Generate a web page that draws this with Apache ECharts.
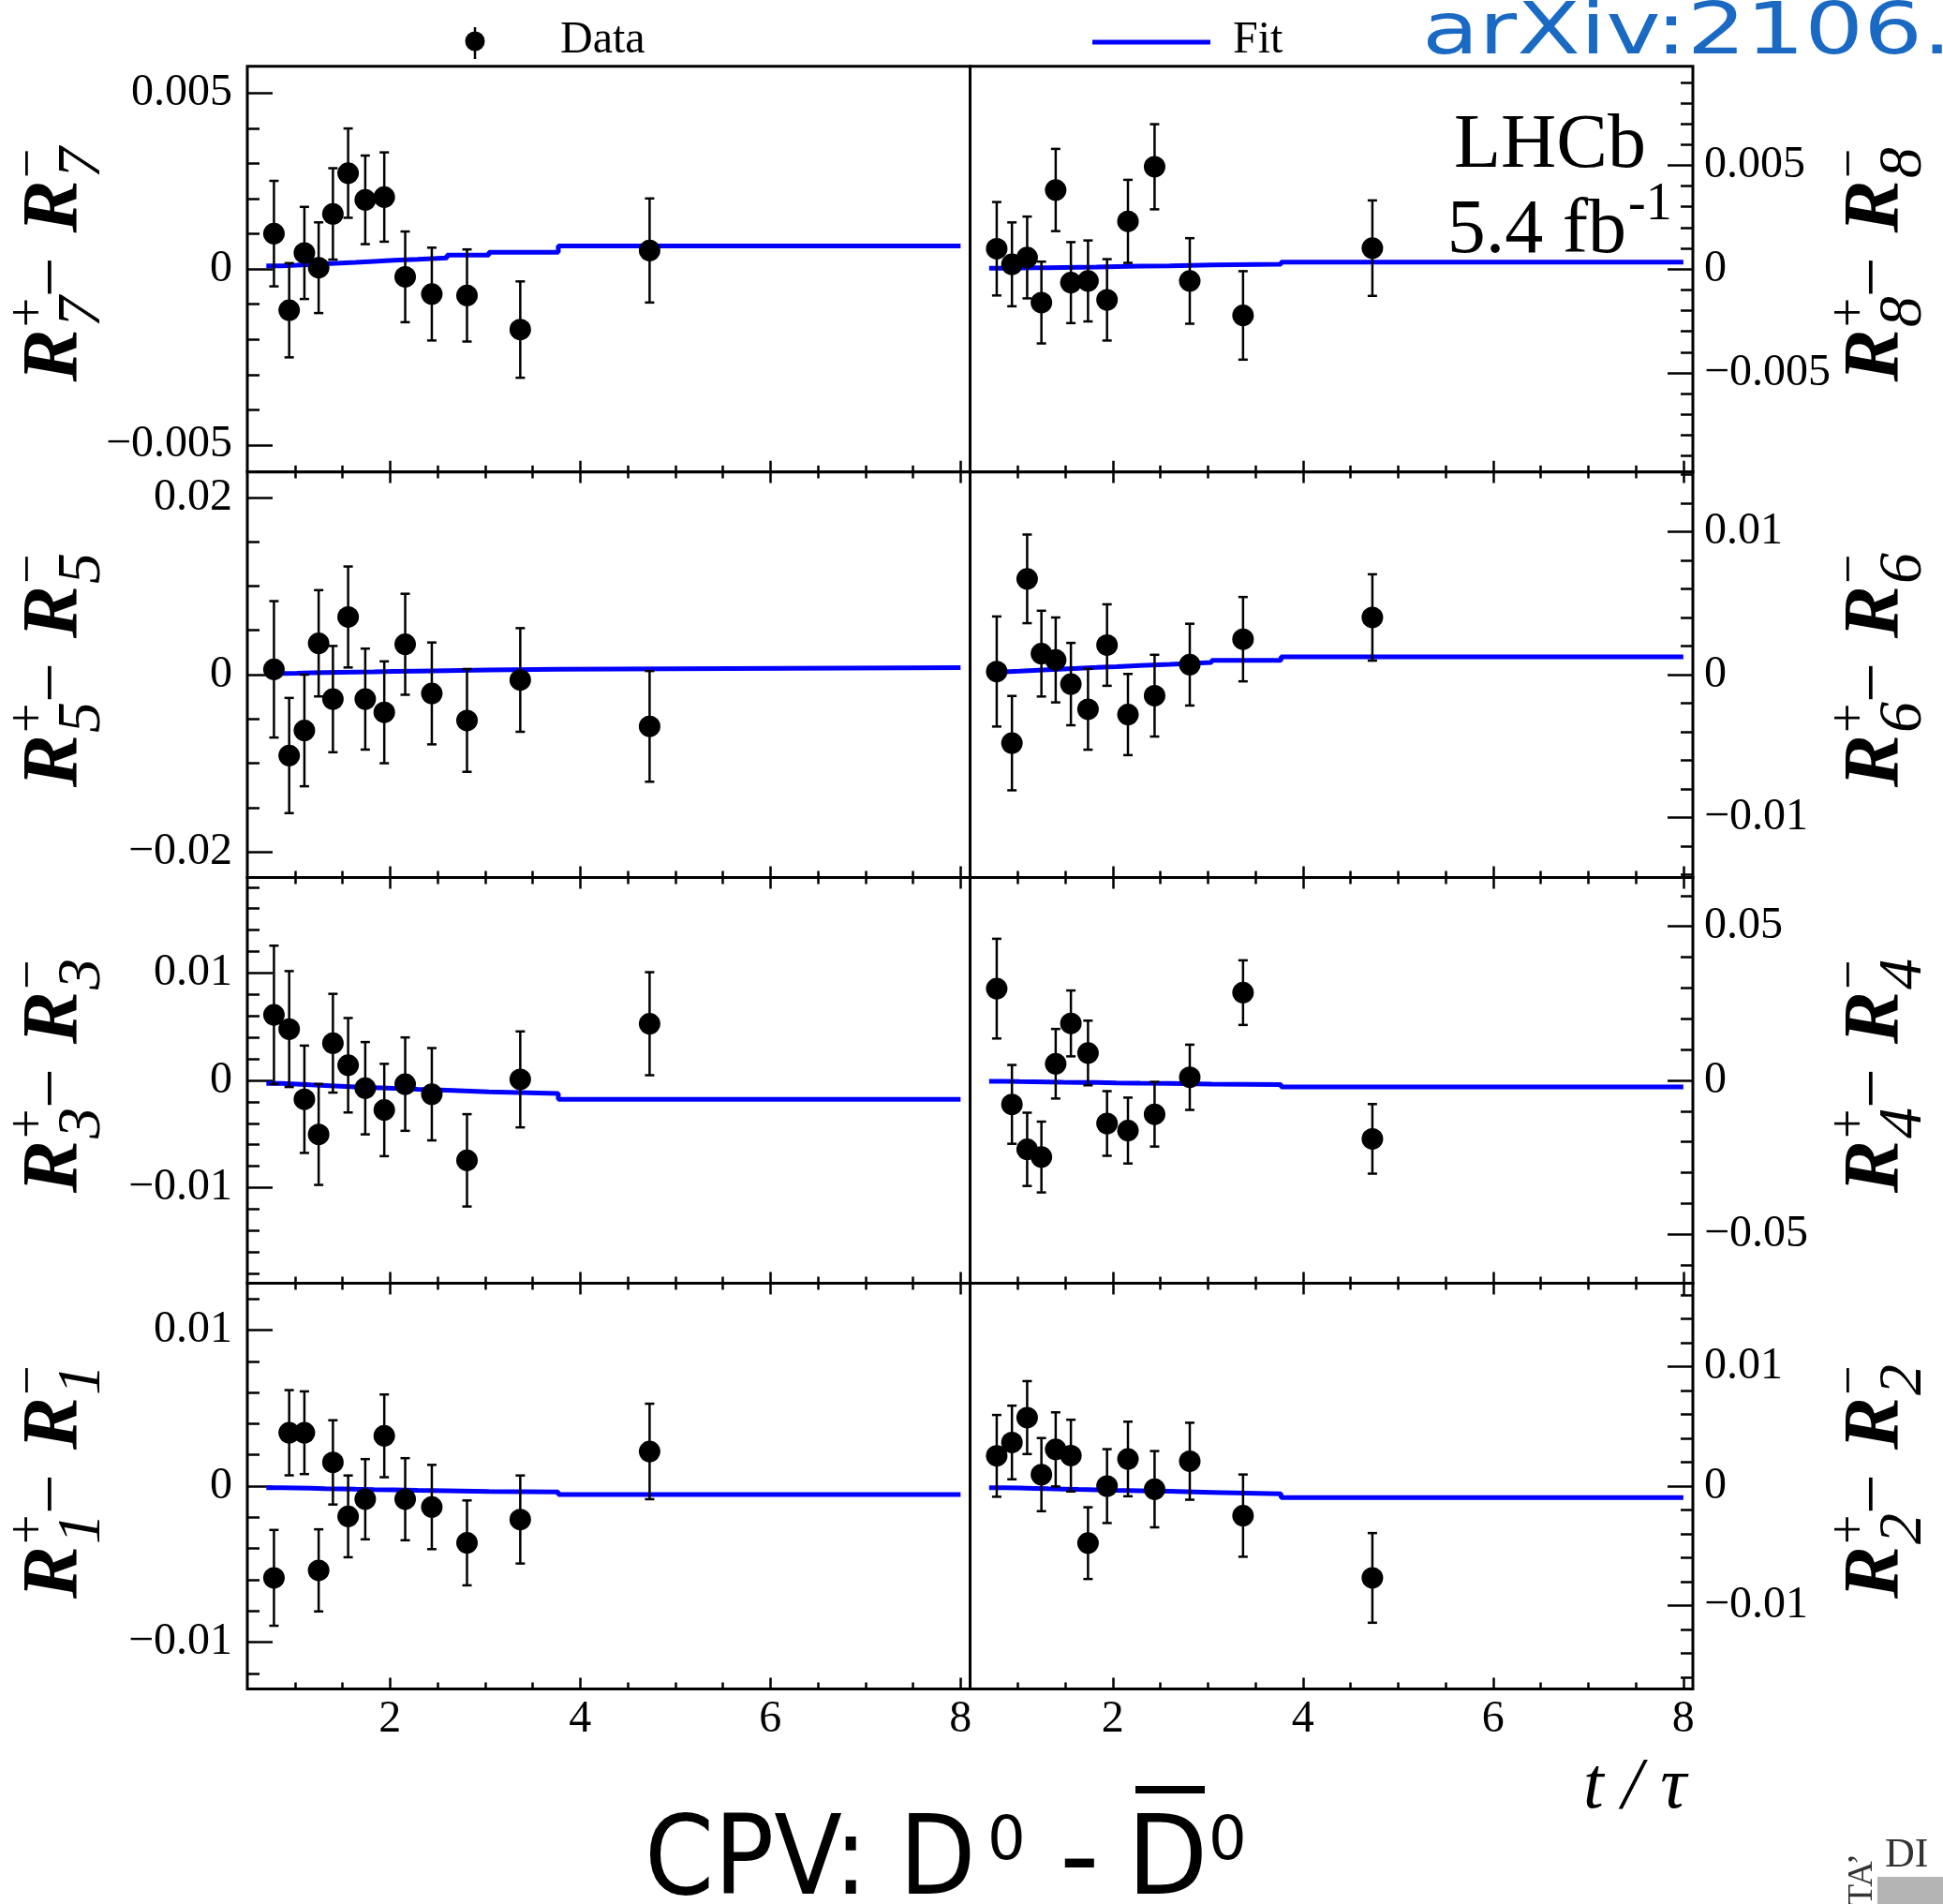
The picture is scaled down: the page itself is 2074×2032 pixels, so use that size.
<!DOCTYPE html>
<html>
<head>
<meta charset="utf-8">
<title>CPV: D0 - D0bar</title>
<script src="https://cdn.jsdelivr.net/npm/echarts@6/dist/echarts.min.js"></script>
<style>
html, body { margin: 0; padding: 0; background: #fff; }
#chart { width: 2074px; height: 2032px; }
</style>
</head>
<body>
<div id="chart"></div>
<script>
// decay-time bin centres (t / tau)
const tCentres = [0.78, 0.94, 1.10, 1.25, 1.40, 1.56, 1.74, 1.94, 2.16, 2.44, 2.81, 3.37, 4.73];
// bin edges used by the fitted step function
const fitEdges = [0.70, 0.86, 1.02, 1.17, 1.32, 1.48, 1.64, 1.83, 2.04, 2.29, 2.60, 3.04, 3.77, 8.00];

// R_i^+ - R_i^- per bin, uncertainties and fit per bin
const r7Val = [0.00101, -0.00117, 0.00046, 0.00004, 0.00157, 0.00273, 0.00197, 0.00205, -0.00022, -0.00071, -0.00075, -0.00172, 0.00053];
const r7Err = [0.00150, 0.00134, 0.00131, 0.00129, 0.00130, 0.00127, 0.00126, 0.00127, 0.00129, 0.00132, 0.00131, 0.00137, 0.00148];
const r7Fit = [0.00009, 0.00011, 0.00013, 0.00015, 0.00017, 0.00019, 0.00022, 0.00025, 0.00028, 0.00032, 0.00040, 0.00048, 0.00066];

const r8Val = [0.00098, 0.00023, 0.00056, -0.00161, 0.00381, -0.00065, -0.00057, -0.00148, 0.00230, 0.00493, -0.00057, -0.00223, 0.00101];
const r8Err = [0.00225, 0.00202, 0.00197, 0.00197, 0.00198, 0.00195, 0.00195, 0.00196, 0.00200, 0.00205, 0.00206, 0.00213, 0.00230];
const r8Fit = [0.00004, 0.00005, 0.00006, 0.00007, 0.00008, 0.00009, 0.00010, 0.00012, 0.00014, 0.00016, 0.00020, 0.00024, 0.00034];

const r5Val = [0.00060, -0.00913, -0.00630, 0.00354, -0.00276, 0.00651, -0.00276, -0.00425, 0.00343, -0.00212, -0.00517, -0.00060, -0.00584];
const r5Err = [0.00770, 0.00650, 0.00630, 0.00600, 0.00600, 0.00570, 0.00570, 0.00575, 0.00570, 0.00575, 0.00580, 0.00585, 0.00625];
const r5Fit = [0.00014, 0.00017, 0.00020, 0.00023, 0.00026, 0.00029, 0.00032, 0.00036, 0.00040, 0.00045, 0.00052, 0.00060, 0.00080];

const r6Val = [0.00022, -0.00479, 0.00670, 0.00147, 0.00103, -0.00066, -0.00242, 0.00207, -0.00279, -0.00147, 0.00070, 0.00248, 0.00400];
const r6Err = [0.00385, 0.00330, 0.00310, 0.00300, 0.00297, 0.00288, 0.00283, 0.00285, 0.00284, 0.00286, 0.00286, 0.00295, 0.00302];
const r6Fit = [0.00020, 0.00025, 0.00030, 0.00035, 0.00040, 0.00045, 0.00050, 0.00056, 0.00064, 0.00072, 0.00085, 0.00100, 0.00125];

const r3Val = [0.00610, 0.00478, -0.00176, -0.00504, 0.00346, 0.00141, -0.00073, -0.00276, -0.00035, -0.00129, -0.00745, 0.00009, 0.00528];
const r3Err = [0.00645, 0.00540, 0.00500, 0.00470, 0.00460, 0.00440, 0.00430, 0.00430, 0.00435, 0.00430, 0.00430, 0.00447, 0.00480];
const r3Fit = [-0.00029, -0.00035, -0.00042, -0.00048, -0.00055, -0.00062, -0.00068, -0.00075, -0.00083, -0.00092, -0.00108, -0.00123, -0.00176];

const r4Val = [0.0298, -0.0078, -0.0224, -0.0249, 0.0054, 0.0185, 0.0089, -0.0140, -0.0163, -0.0110, 0.0010, 0.0285, -0.0190];
const r4Err = [0.0162, 0.0128, 0.0119, 0.0115, 0.0113, 0.0107, 0.0105, 0.0105, 0.0107, 0.0105, 0.0106, 0.0105, 0.0113];
const r4Fit = [-0.0003, -0.0004, -0.00045, -0.0005, -0.0006, -0.00065, -0.0007, -0.0008, -0.0009, -0.0010, -0.0012, -0.0014, -0.0021];

const r1Val = [-0.00588, 0.00342, 0.00342, -0.00540, 0.00152, -0.00194, -0.00084, 0.00322, -0.00084, -0.00134, -0.00364, -0.00214, 0.00222];
const r1Err = [0.00307, 0.00273, 0.00265, 0.00263, 0.00270, 0.00262, 0.00257, 0.00265, 0.00263, 0.00270, 0.00272, 0.00282, 0.00306];
const r1Fit = [-0.00010, -0.00012, -0.00014, -0.00016, -0.00018, -0.00020, -0.00022, -0.00024, -0.00027, -0.00030, -0.00034, -0.00038, -0.00054];

const r2Val = [0.00253, 0.00365, 0.00573, 0.00096, 0.00307, 0.00255, -0.00477, 0.00000, 0.00227, -0.00026, 0.00208, -0.00247, -0.00768];
const r2Err = [0.00342, 0.00308, 0.00305, 0.00306, 0.00310, 0.00300, 0.00300, 0.00309, 0.00312, 0.00319, 0.00322, 0.00344, 0.00375];
const r2Fit = [-0.00013, -0.00016, -0.00019, -0.00022, -0.00025, -0.00028, -0.00031, -0.00035, -0.00039, -0.00044, -0.00052, -0.00065, -0.00096];

// axis ticks and labels
const xMajorTicks = [2, 4, 6, 8];
const xMajorText = ['2', '4', '6', '8'];
const xMinorTicks = [1, 1.5, 2.5, 3, 3.5, 4.5, 5, 5.5, 6.5, 7, 7.5];

const r7Ticks = [-0.005, 0, 0.005], r7TickText = ['\u22120.005', '0', '0.005'];
const r8Ticks = [-0.005, 0, 0.005], r8TickText = ['\u22120.005', '0', '0.005'];
const r5Ticks = [-0.02, 0, 0.02],   r5TickText = ['\u22120.02', '0', '0.02'];
const r6Ticks = [-0.01, 0, 0.01],   r6TickText = ['\u22120.01', '0', '0.01'];
const r3Ticks = [-0.01, 0, 0.01],   r3TickText = ['\u22120.01', '0', '0.01'];
const r4Ticks = [-0.05, 0, 0.05],   r4TickText = ['\u22120.05', '0', '0.05'];
const r1Ticks = [-0.01, 0, 0.01],   r1TickText = ['\u22120.01', '0', '0.01'];
const r2Ticks = [-0.01, 0, 0.01],   r2TickText = ['\u22120.01', '0', '0.01'];

// panel order: rows top to bottom, left column then right column
const panels = [
  { idx: '7', val: r7Val, err: r7Err, fit: r7Fit, lim: 0.00577, ticks: r7Ticks, text: r7TickText, minorStep: 0.001 },
  { idx: '8', val: r8Val, err: r8Err, fit: r8Fit, lim: 0.00977, ticks: r8Ticks, text: r8TickText, minorStep: 0.001 },
  { idx: '5', val: r5Val, err: r5Err, fit: r5Fit, lim: 0.0229,  ticks: r5Ticks, text: r5TickText, minorStep: 0.005 },
  { idx: '6', val: r6Val, err: r6Err, fit: r6Fit, lim: 0.01419, ticks: r6Ticks, text: r6TickText, minorStep: 0.002 },
  { idx: '3', val: r3Val, err: r3Err, fit: r3Fit, lim: 0.0189,  ticks: r3Ticks, text: r3TickText, minorStep: 0.002 },
  { idx: '4', val: r4Val, err: r4Err, fit: r4Fit, lim: 0.0659,  ticks: r4Ticks, text: r4TickText, minorStep: 0.01 },
  { idx: '1', val: r1Val, err: r1Err, fit: r1Fit, lim: 0.0130,  ticks: r1Ticks, text: r1TickText, minorStep: 0.002 },
  { idx: '2', val: r2Val, err: r2Err, fit: r2Fit, lim: 0.01697, ticks: r2Ticks, text: r2TickText, minorStep: 0.002 }
];

const SERIF = 'Liberation Serif';
const SANS = 'DejaVu Sans';
const rowTops = [70.7, 503.5, 936.5, 1369.5];
const rowHeight = 433;
const colLefts = [264, 1035.5];
const colWidth = 771.5;

function minorTicks(step, lim, majors) {
  const out = [];
  const n = Math.floor(lim / step + 1e-9);
  for (let k = -n; k <= n; k++) {
    const v = +(k * step).toFixed(6);
    if (!majors.some(m => Math.abs(m - v) < 1e-9)) out.push(v);
  }
  return out;
}

const grids = [], xAxes = [], yAxes = [], series = [];
const tickLine = { color: '#000', width: 2.5 };

panels.forEach((p, i) => {
  const row = Math.floor(i / 2), col = i % 2;
  grids.push({
    left: colLefts[col], top: rowTops[row], width: colWidth, height: rowHeight,
    show: true, borderColor: '#000', borderWidth: 3, backgroundColor: 'transparent'
  });

  const xi = xAxes.length;
  const xBase = {
    type: 'value', gridIndex: i, min: 0.5, max: 8.1,
    splitLine: { show: false }, axisLine: { show: false, onZero: false }
  };
  xAxes.push(Object.assign({}, xBase, {
    position: 'bottom',
    axisTick: { show: true, inside: true, length: 12, customValues: xMajorTicks, lineStyle: tickLine },
    axisLabel: {
      show: row === 3, customValues: xMajorTicks, margin: 9,
      fontFamily: SERIF, fontSize: 48, color: '#000',
      formatter: v => xMajorText[xMajorTicks.indexOf(v)]
    }
  }));
  xAxes.push(Object.assign({}, xBase, {
    position: 'bottom',
    axisTick: { show: true, inside: true, length: 7, customValues: xMinorTicks, lineStyle: tickLine },
    axisLabel: { show: false }
  }));
  xAxes.push(Object.assign({}, xBase, {
    position: 'top',
    axisTick: { show: row > 0, inside: true, length: 12, customValues: xMajorTicks, lineStyle: tickLine },
    axisLabel: { show: false }
  }));
  xAxes.push(Object.assign({}, xBase, {
    position: 'top',
    axisTick: { show: row > 0, inside: true, length: 7, customValues: xMinorTicks, lineStyle: tickLine },
    axisLabel: { show: false }
  }));

  const yi = yAxes.length;
  const yBase = {
    type: 'value', gridIndex: i, min: -p.lim, max: p.lim,
    position: col ? 'right' : 'left',
    splitLine: { show: false }, axisLine: { show: false, onZero: false }
  };
  yAxes.push(Object.assign({}, yBase, {
    axisTick: { show: true, inside: true, length: 27, customValues: p.ticks, lineStyle: tickLine },
    axisLabel: {
      show: true, customValues: p.ticks, margin: col ? 12 : 16,
      fontFamily: SERIF, fontSize: 48, color: '#000',
      formatter: v => {
        const k = p.ticks.findIndex(m => Math.abs(m - v) < 1e-9);
        return k >= 0 ? p.text[k] : '';
      }
    }
  }));
  yAxes.push(Object.assign({}, yBase, {
    axisTick: { show: true, inside: true, length: 13, customValues: minorTicks(p.minorStep, p.lim, p.ticks), lineStyle: tickLine },
    axisLabel: { show: false }
  }));

  // fitted step function
  const fitData = fitEdges.map((e, k) => [e, p.fit[Math.min(k, p.fit.length - 1)]]);
  series.push({
    type: 'line', xAxisIndex: xi, yAxisIndex: yi, step: 'end',
    data: fitData, showSymbol: false, symbol: 'none', z: 2,
    lineStyle: { color: '#0000ff', width: 5 }, silent: true
  });

  // error bars
  series.push({
    type: 'custom', xAxisIndex: xi, yAxisIndex: yi, z: 3,
    data: tCentres.map((t, k) => [t, p.val[k], p.err[k]]),
    encode: { x: 0, y: 1 },
    renderItem: (params, api) => {
      const x = api.value(0), y = api.value(1), e = api.value(2);
      const hi = api.coord([x, y + e]);
      const lo = api.coord([x, y - e]);
      const cap = 5;
      const st = { stroke: '#000', lineWidth: 2.5 };
      return {
        type: 'group', children: [
          { type: 'line', shape: { x1: hi[0], y1: hi[1], x2: lo[0], y2: lo[1] }, style: st },
          { type: 'line', shape: { x1: hi[0] - cap, y1: hi[1], x2: hi[0] + cap, y2: hi[1] }, style: st },
          { type: 'line', shape: { x1: lo[0] - cap, y1: lo[1], x2: lo[0] + cap, y2: lo[1] }, style: st }
        ]
      };
    }
  });

  // data points
  series.push({
    type: 'scatter', xAxisIndex: xi, yAxisIndex: yi, z: 4,
    data: tCentres.map((t, k) => [t, p.val[k]]),
    symbol: 'circle', symbolSize: 23,
    itemStyle: { color: '#000', opacity: 1 }, silent: true
  });
});

// rotated axis title  R_i^+ - R_i^-
function yTitle(sub, ax, ay) {
  const txt = (s, x, y, size, italic, bold) => ({
    type: 'text', x: x, y: y,
    style: {
      text: s, fontFamily: SERIF, fontSize: size,
      fontStyle: italic ? 'italic' : 'normal', fontWeight: bold ? 'bold' : 'normal',
      fill: '#000', align: 'left', verticalAlign: 'middle'
    }
  });
  return {
    type: 'group', x: ax, y: ay, rotation: Math.PI / 2, children: [
      txt('R', 0, -28, 84, true, true),
      txt(sub, 58, 1, 66, true, false),
      txt('+', 58, -56, 56, false, false),
      txt('\u2212', 90, -30, 76, false, false),
      txt('R', 159, -28, 84, true, true),
      txt(sub, 217, 1, 66, true, false),
      txt('\u2212', 217, -56, 56, false, false)
    ]
  };
}

const graphics = [];
panels.forEach((p, i) => {
  const row = Math.floor(i / 2), col = i % 2;
  const centre = rowTops[row] + rowHeight / 2;
  graphics.push(yTitle(p.idx, col ? 2032 : 88, centre + 120));
});

// legend
graphics.push({ type: 'line', shape: { x1: 507, y1: 29, x2: 507, y2: 63 }, style: { stroke: '#000', lineWidth: 2.5 } });
graphics.push({ type: 'circle', shape: { cx: 507, cy: 44, r: 10.5 }, style: { fill: '#000' } });
graphics.push({ type: 'text', x: 598, y: 43, style: { text: 'Data', fontFamily: SERIF, fontSize: 48, fill: '#000', align: 'left', verticalAlign: 'middle' } });
graphics.push({ type: 'line', shape: { x1: 1166, y1: 45, x2: 1292, y2: 45 }, style: { stroke: '#0000ff', lineWidth: 5 } });
graphics.push({ type: 'text', x: 1316, y: 43, style: { text: 'Fit', fontFamily: SERIF, fontSize: 48, fill: '#000', align: 'left', verticalAlign: 'middle' } });

// experiment and luminosity
graphics.push({ type: 'text', x: 1757, y: 156, style: { text: 'LHCb', fontFamily: SERIF, fontSize: 82, fill: '#000', align: 'right', verticalAlign: 'middle' } });
graphics.push({ type: 'text', x: 1736, y: 247, style: { text: '5.4 fb', fontFamily: SERIF, fontSize: 82, fill: '#000', align: 'right', verticalAlign: 'middle' } });
graphics.push({ type: 'text', x: 1738, y: 219, style: { text: '-1', fontFamily: SERIF, fontSize: 56, fill: '#000', align: 'left', verticalAlign: 'middle' } });

// x-axis title
graphics.push({ type: 'text', x: 1690, y: 1908, style: { text: 't / \u03c4', fontFamily: SERIF, fontStyle: 'italic', fontSize: 78, fill: '#000', align: 'left', verticalAlign: 'middle' } });

// reference tag
graphics.push({ type: 'text', x: 1518, y: 37, scaleX: 1.3, style: { text: 'arXiv:2106.', fontFamily: SANS, fontSize: 76, fill: '#1a6ac4', align: 'left', verticalAlign: 'middle' } });

// caption
graphics.push({ type: 'text', x: 688, y: 1990, scaleX: 0.9, style: { text: 'CPV: D', fontFamily: SANS, fontSize: 118, fill: '#000', align: 'left', verticalAlign: 'middle' } });
graphics.push({ type: 'text', x: 1054, y: 1967, style: { text: '0', fontFamily: SANS, fontSize: 64, fill: '#000', align: 'left', verticalAlign: 'middle' } });
graphics.push({ type: 'text', x: 1131, y: 1990, style: { text: '-', fontFamily: SANS, fontSize: 118, fill: '#000', align: 'left', verticalAlign: 'middle' } });
graphics.push({ type: 'text', x: 1203, y: 1990, scaleX: 0.95, style: { text: 'D', fontFamily: SANS, fontSize: 118, fill: '#000', align: 'left', verticalAlign: 'middle' } });
graphics.push({ type: 'rect', shape: { x: 1212, y: 1906, width: 74, height: 8 }, style: { fill: '#000' } });
graphics.push({ type: 'text', x: 1290, y: 1967, style: { text: '0', fontFamily: SANS, fontSize: 64, fill: '#000', align: 'left', verticalAlign: 'middle' } });

// corner badge fragment
graphics.push({ type: 'rect', shape: { x: 2004, y: 2003, width: 70, height: 29 }, style: { fill: '#b4b4b4' } });
graphics.push({ type: 'text', x: 2012, y: 1980, style: { text: 'DI', fontFamily: SERIF, fontSize: 44, fill: '#333', align: 'left', verticalAlign: 'middle' } });
graphics.push({ type: 'text', x: 1988, y: 2034, rotation: Math.PI / 2, style: { text: 'TA\u2019', fontFamily: SERIF, fontSize: 38, fill: '#333', align: 'left', verticalAlign: 'middle' } });

const chart = echarts.init(document.getElementById('chart'), null, { renderer: 'canvas' });
chart.setOption({
  backgroundColor: '#fff',
  animation: false,
  grid: grids,
  xAxis: xAxes,
  yAxis: yAxes,
  series: series,
  graphic: { elements: graphics }
});
</script>
</body>
</html>
